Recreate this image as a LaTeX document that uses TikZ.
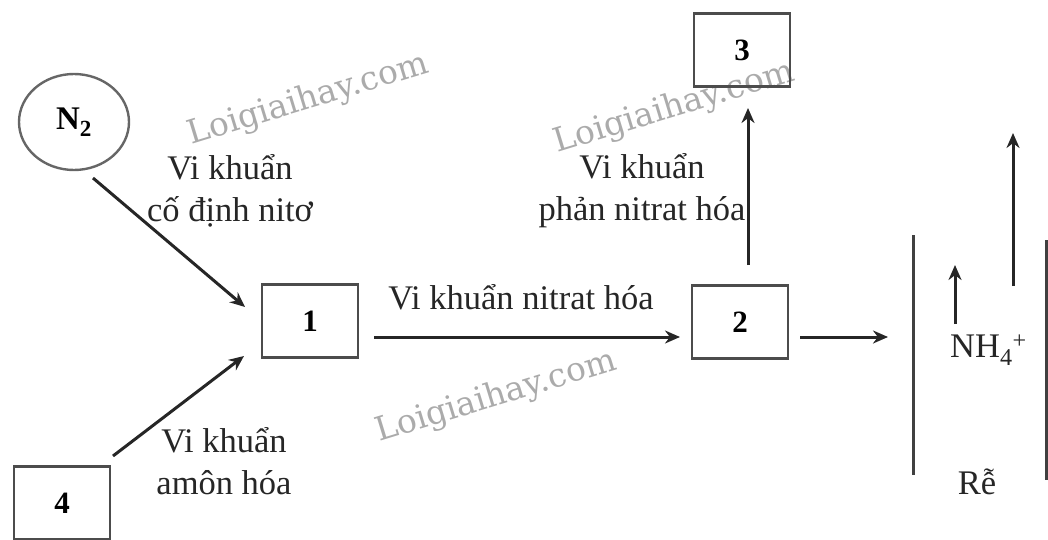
\documentclass[tikz,border=0pt]{standalone}
\usepackage{fontspec}
\setmainfont{Liberation Serif}
\newfontfamily\wmfont{DejaVu Serif}
\usetikzlibrary{arrows.meta,shapes.geometric}
\begin{document}
\begin{tikzpicture}[x=1pt,y=-1pt,
  box/.style={draw=black!70,line width=2.6pt,minimum width=96pt,minimum height=73pt,inner sep=0pt,font=\fontsize{31}{34}\selectfont\bfseries},
  ell/.style={ellipse,draw=black!60,line width=2.4pt,minimum width=110pt,minimum height=96pt,inner sep=0pt,font=\fontsize{33}{36}\selectfont\bfseries},
  arr/.style={line width=3pt,draw=black!85,-{Stealth[length=15pt,width=13pt]}},
  plain/.style={line width=3pt,draw=black!75},
  lbl/.style={font=\fontsize{34.5}{42}\selectfont,text=black!85,align=center,inner sep=0pt},
  wm/.style={font=\wmfont\fontsize{33}{36}\selectfont,text=black!33,rotate=17,inner sep=0pt}]
\useasboundingbox (0,0) rectangle (1048,540);
% watermarks
\node[wm] (w1) at (308,100) {Loigiaihay.com};
\node[wm] (w2) at (674,108) {Loigiaihay.com};
\node[wm] (w3) at (496,397) {Loigiaihay.com};
% nodes
\node[ell] (n2) at (74,122) {N\textsubscript{2}};
\node[box] (b1) at (310,321) {1};
\node[box] (b2) at (740,322) {2};
\node[box] (b3) at (742,50) {3};
\node[box] (b4) at (62,503) {4};
% labels
\node[lbl] (l1) at (230,191) {Vi khuẩn\\cố định nitơ};
\node[lbl] (l4) at (224,461) {Vi khuẩn\\amôn hóa};
\node[lbl] (l12) at (521,297) {Vi khuẩn nitrat hóa};
\node[lbl] (l23) at (642,191) {Vi khuẩn\\phản nitrat hóa};
\node[lbl,anchor=west] (nh4) at (950,350) {NH\textsubscript{4}\textsuperscript{+}};
\node[lbl] (re) at (977,482) {Rễ};
% coordinates
\coordinate (s1) at (93,178);
\coordinate (e1) at (245,307);
\coordinate (s4) at (113,456);
\coordinate (e4) at (244,356);
\coordinate (s12) at (374,337);
\coordinate (e12) at (680,337);
\coordinate (s23) at (748,265);
\coordinate (e23) at (748,108);
\coordinate (s2r) at (800,337);
\coordinate (e2r) at (888,337);
\coordinate (rl1) at (913,235);
\coordinate (rl2) at (913,475);
\coordinate (rr1) at (1046,240);
\coordinate (rr2) at (1046,480);
\coordinate (ns) at (955,324);
\coordinate (ne) at (955,265);
\coordinate (bs) at (1013,286);
\coordinate (be) at (1013,133);
% connectors
\draw[arr] (s1) -- (e1);
\draw[arr] (s4) -- (e4);
\draw[arr] (s12) -- (e12);
\draw[arr] (s23) -- (e23);
\draw[arr] (s2r) -- (e2r);
\draw[plain] (rl1) -- (rl2);
\draw[plain] (rr1) -- (rr2);
\draw[arr] (ns) -- (ne);
\draw[arr] (bs) -- (be);
\end{tikzpicture}
\end{document}
